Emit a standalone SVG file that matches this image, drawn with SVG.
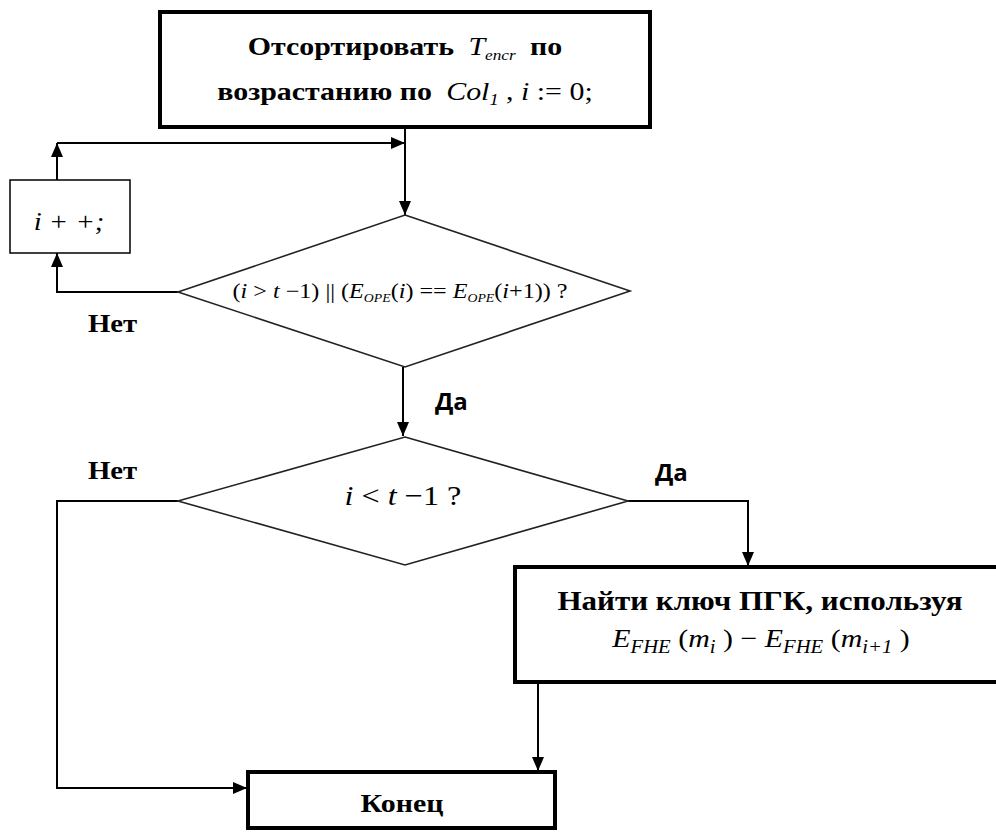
<svg xmlns="http://www.w3.org/2000/svg" width="996" height="833" viewBox="0 0 996 833">
<style>
.box{fill:#fff;stroke:#000;stroke-width:4}
.thin{fill:#fff;stroke:#000;stroke-width:1.5}
.dia{fill:#fff;stroke:#222;stroke-width:1.6}
.con{fill:none;stroke:#000;stroke-width:2}
.ser{font-family:"Liberation Serif",serif;fill:#000}
.b{font-weight:bold}
.it{font-style:italic;font-weight:normal}
.mid{text-anchor:middle}
.sans{font-family:"Open Sans","Liberation Sans",sans-serif;font-weight:bold;fill:#000}
</style>
<defs>
<marker id="ah" viewBox="0 0 14 12" refX="14" refY="6" markerWidth="14" markerHeight="12" markerUnits="userSpaceOnUse" orient="auto"><path d="M0,0 L14,6 L0,12 Z" fill="#000"/></marker>
</defs>
<rect width="996" height="833" fill="#fff"/>
<g id="connectors">
<path class="con" d="M405,129 V215" marker-end="url(#ah)"/>
<path class="con" d="M57,180 V143" marker-end="url(#ah)"/>
<path class="con" d="M57,143 H405" marker-end="url(#ah)"/>
<path class="con" d="M178,292 H57 V253" marker-end="url(#ah)"/>
<path class="con" d="M403,367 V436" marker-end="url(#ah)"/>
<path class="con" d="M178,501 H57 V788 H247" marker-end="url(#ah)"/>
<path class="con" d="M628,501 H748 V566" marker-end="url(#ah)"/>
<path class="con" d="M538,684 V771" marker-end="url(#ah)"/>
</g>
<g id="sort">
<rect class="box" x="160" y="12" width="490" height="115"/>
<text class="ser b mid" transform="translate(405,55) scale(1.15,1)" font-size="26">Отсортировать <tspan class="it" dx="6">T</tspan><tspan class="it" font-size="15" dy="5">encr</tspan><tspan dy="-5" dx="6"> по</tspan></text>
<text class="ser b mid" transform="translate(405,100) scale(1.15,1)" font-size="26">возрастанию по <tspan class="it" dx="6">Col</tspan><tspan class="it" font-size="16" dy="5">1</tspan><tspan dy="-5" font-weight="normal"> , </tspan><tspan class="it">i</tspan><tspan font-weight="normal"> := 0;</tspan></text>
</g>
<g id="inc">
<rect class="thin" x="10" y="180" width="120" height="73"/>
<text class="ser it mid" transform="translate(69,230) scale(1.15,1)" font-size="25">i + +;</text>
</g>
<g id="cond1">
<polygon class="dia" points="405,215 630,291 405,367 178,292"/>
<text class="ser mid" transform="translate(400,298) scale(1.15,1)" font-size="21">(<tspan class="it">i</tspan> &gt; <tspan class="it">t</tspan> −1) || (<tspan class="it">E</tspan><tspan class="it" font-size="12" dy="4">OPE</tspan><tspan dy="-4">(</tspan><tspan class="it">i</tspan>) == <tspan class="it">E</tspan><tspan class="it" font-size="12" dy="4">OPE</tspan><tspan dy="-4">(</tspan><tspan class="it">i</tspan>+1)) ?</text>
</g>
<g id="cond2">
<polygon class="dia" points="405,437 628,501 405,565 178,501"/>
<text class="ser mid" transform="translate(403,505) scale(1.15,1)" font-size="28"><tspan class="it">i</tspan> &lt; <tspan class="it">t</tspan> −1 ?</text>
</g>
<g id="find">
<rect class="box" x="515" y="567" width="485" height="115"/>
<text class="ser b mid" transform="translate(760,610) scale(1.15,1)" font-size="27">Найти ключ ПГК, используя</text>
<text class="ser it mid" transform="translate(761,647) scale(1.15,1)" font-size="26">E<tspan font-size="18" dy="6">FHE</tspan><tspan font-style="normal" dy="-6"> (</tspan>m<tspan font-size="18" dy="6">i</tspan><tspan font-style="normal" dy="-6"> ) − </tspan>E<tspan font-size="18" dy="6">FHE</tspan><tspan font-style="normal" dy="-6"> (</tspan>m<tspan font-size="18" dy="6">i+1</tspan><tspan font-style="normal" dy="-6"> )</tspan></text>
</g>
<g id="end">
<rect class="box" x="248" y="772" width="307" height="56"/>
<text class="ser b mid" transform="translate(402,812) scale(1.15,1)" font-size="26">Конец</text>
</g>
<g id="labels">
<text class="ser b" transform="translate(88,332) scale(1.15,1)" font-size="25">Нет</text>
<text class="sans" x="435" y="410" font-size="24">Да</text>
<text class="ser b" transform="translate(88,479) scale(1.15,1)" font-size="25">Нет</text>
<text class="sans" x="655" y="481" font-size="24">Да</text>
</g>
</svg>
